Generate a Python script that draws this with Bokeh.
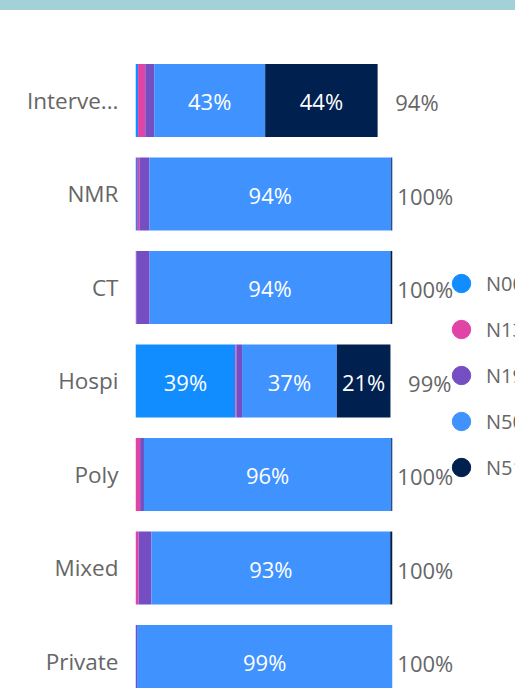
from bokeh.plotting import figure
from bokeh.models import ColumnDataSource, Range1d, FixedTicker, Legend, LegendItem, Div
from bokeh.layouts import column
from bokeh.core.properties import value
from bokeh.embed import file_html
from bokeh.resources import INLINE

categories = ["Interve...", "NMR", "CT", "Hospi", "Poly", "Mixed", "Private"]
series = ["N00", "N13", "N19", "N50", "N51"]
N00 = [1.0, 0.6, 0.0, 38.9, 0.0, 0.0, 0.0]
N13 = [2.8, 0.9, 0.3, 0.4, 1.8, 1.2, 0.0]
N19 = [3.5, 3.9, 5.2, 2.2, 1.5, 5.0, 0.6]
N50 = [43.2, 94.2, 93.8, 36.9, 96.3, 93.0, 99.4]
N51 = [43.8, 0.4, 0.7, 20.9, 0.4, 0.8, 0.0]
colors = ["#118DFF", "#E044A7", "#744EC2", "#4092FF", "#002050"]

FONT = "Open Sans"
GREY = "#666666"

n = len(categories)
ypos = [n - 1 - i for i in range(n)]
data = {"y": ypos, "N00": N00, "N13": N13, "N19": N19, "N50": N50, "N51": N51}
source = ColumnDataSource(data)

p = figure(width=515, height=678, output_backend="svg", toolbar_location=None,
           x_range=Range1d(0, 148.0), y_range=Range1d(-0.289, 6.877),
           min_border_left=135, min_border_right=0, min_border_top=8, min_border_bottom=0)
p.outline_line_color = None
p.grid.visible = False
p.xaxis.visible = False

p.hbar_stack(series, y="y", height=0.78, color=colors, line_color=None, source=source)

# segment labels
lx, ly, lt = [], [], []
tx, ty, tt = [], [], []
vals = [N00, N13, N19, N50, N51]
for i in range(n):
    left = 0.0
    for s in range(len(series)):
        v = vals[s][i]
        if v >= 10:
            lx.append(left + v / 2)
            ly.append(ypos[i])
            lt.append(f"{round(v)}%")
        left += v
    tx.append(left)
    ty.append(ypos[i])
    tt.append(f"{round(left)}%")

p.text(x=lx, y=ly, text=lt, text_color="white", text_align="center", text_baseline="middle",
       text_font=value(FONT), text_font_size="22px", y_offset=1)
p.text(x=tx, y=ty, text=tt, text_color=GREY, text_align="right", text_baseline="middle",
       text_font=value(FONT), text_font_size="22px", x_offset=61, y_offset=2)

yax = p.yaxis[0]
yax.ticker = FixedTicker(ticks=ypos)
yax.major_label_overrides = {ypos[i]: categories[i] for i in range(n)}
yax.axis_line_color = None
yax.major_tick_line_color = None
yax.minor_tick_line_color = None
yax.major_tick_out = 0
yax.major_tick_in = 0
yax.major_label_standoff = 17
yax.major_label_text_font = FONT
yax.major_label_text_font_size = "22.5px"
yax.major_label_text_color = GREY

items = []
nan = float("nan")
for s, c in zip(series, colors):
    r = p.scatter(x=[nan], y=[nan], marker="circle", size=20, color=c)
    items.append(LegendItem(label=s, renderers=[r]))
legend = Legend(items=items, location=(301, 198), padding=0, margin=0, spacing=0,
                glyph_width=50, glyph_height=46, label_height=20, label_standoff=0,
                label_text_font=FONT, label_text_font_size="20px", label_text_color=GREY,
                border_line_color=None, background_fill_alpha=0)
p.add_layout(legend, "center")

band = Div(text="", width=515, height=10, margin=(0, 0, 0, 0),
           styles={"background-color": "#A3D1D8"})
layout = column(band, p, spacing=0)

open("out.html", "w").write(file_html(layout, INLINE))
